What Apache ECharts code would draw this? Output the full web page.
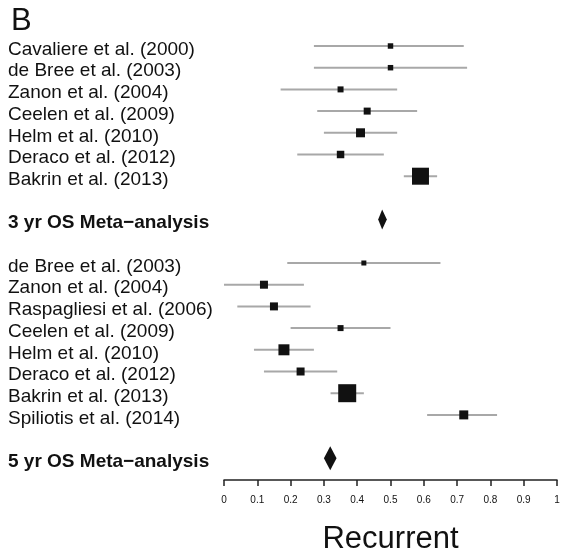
<!DOCTYPE html>
<html>
<head>
<meta charset="utf-8">
<script src="https://cdn.jsdelivr.net/npm/echarts@6/dist/echarts.min.js"></script>
<style>
html,body{margin:0;padding:0;background:#fff;}
#chart{width:566px;height:560px;}
</style>
</head>
<body>
<div id="chart"></div>
<script>
// ---- Data ----
const studies3 = ['Cavaliere et al. (2000)', 'de Bree et al. (2003)', 'Zanon et al. (2004)', 'Ceelen et al. (2009)', 'Helm et al. (2010)', 'Deraco et al. (2012)', 'Bakrin et al. (2013)'];
const est3 = [0.50, 0.50, 0.35, 0.43, 0.41, 0.35, 0.59];
const lo3  = [0.27, 0.27, 0.17, 0.28, 0.30, 0.22, 0.54];
const hi3  = [0.72, 0.73, 0.52, 0.58, 0.52, 0.48, 0.64];
const weight3 = [30, 30, 36, 49, 81, 56, 289];

const studies5 = ['de Bree et al. (2003)', 'Zanon et al. (2004)', 'Raspagliesi et al. (2006)', 'Ceelen et al. (2009)', 'Helm et al. (2010)', 'Deraco et al. (2012)', 'Bakrin et al. (2013)', 'Spiliotis et al. (2014)'];
const est5 = [0.42, 0.12, 0.15, 0.35, 0.18, 0.23, 0.37, 0.72];
const lo5  = [0.19, 0.00, 0.04, 0.20, 0.09, 0.12, 0.32, 0.61];
const hi5  = [0.65, 0.24, 0.26, 0.50, 0.27, 0.34, 0.42, 0.82];
const weight5 = [25, 64, 64, 36, 121, 64, 324, 81];

const metaLabels = ['3 yr OS Meta\u2212analysis', '5 yr OS Meta\u2212analysis'];
const metaEst = [0.475, 0.319];
const metaLo  = [0.463, 0.300];
const metaHi  = [0.489, 0.338];

const xTicks = [0, 0.1, 0.2, 0.3, 0.4, 0.5, 0.6, 0.7, 0.8, 0.9, 1];
const xTitle = 'Recurrent';
const panelLabel = 'B';

// ---- Build rows ----
const rowLabels = [].concat(studies3, [''], [metaLabels[0]], [''], studies5, [''], [metaLabels[1]], ['']);
const studyRows = [];
studies3.forEach((s, i) => studyRows.push({row: i, est: est3[i], lo: lo3[i], hi: hi3[i], w: weight3[i]}));
const off5 = studies3.length + 3;
studies5.forEach((s, i) => studyRows.push({row: off5 + i, est: est5[i], lo: lo5[i], hi: hi5[i], w: weight5[i]}));
const metaRows = [studies3.length + 1, off5 + studies5.length + 1];

const ciData = studyRows.map(r => [r.lo, r.hi, r.row]);
const ptData = studyRows.map(r => ({value: [r.est, r.row], symbolSize: Math.sqrt(r.w)}));
const diaData = metaRows.map((row, i) => [metaLo[i], metaEst[i], metaHi[i], row]);

const FONT = 'Liberation Sans, Arial, Helvetica, sans-serif';
const chart = echarts.init(document.getElementById('chart'));
chart.setOption({
  backgroundColor: '#fff',
  animation: false,
  textStyle: {fontFamily: FONT},
  title: {
    text: panelLabel, left: 6, top: 1,
    textStyle: {fontSize: 31, fontWeight: 'normal', color: '#111', fontFamily: FONT}
  },
  grid: {left: 224, right: 9, top: 46, bottom: 76, containLabel: false},
  xAxis: {
    type: 'value', min: xTicks[0], max: xTicks[xTicks.length - 1], interval: 0.1,
    position: 'bottom',
    axisLine: {show: true, lineStyle: {color: '#222', width: 1.5}},
    axisTick: {show: true, length: 6, lineStyle: {color: '#222', width: 1.5}},
    axisLabel: {fontSize: 10, color: '#111', margin: 15, fontFamily: FONT},
    splitLine: {show: false},
    name: xTitle, nameLocation: 'middle', nameGap: 44,
    nameTextStyle: {fontSize: 31, color: '#111', fontFamily: FONT}
  },
  yAxis: {
    type: 'category', inverse: true, boundaryGap: false, data: rowLabels,
    axisLine: {show: false}, axisTick: {show: false}, splitLine: {show: false},
    axisLabel: {
      interval: 0, align: 'left', margin: 216, fontSize: 19, color: '#111', fontFamily: FONT,
      padding: [7, 0, 0, 0],
      formatter: function (v) { return metaLabels.indexOf(v) >= 0 ? '{b|' + v + '}' : v; },
      rich: {b: {fontWeight: 'bold', fontSize: 19, color: '#111', fontFamily: FONT}}
    }
  },
  series: [
    {
      type: 'custom', data: ciData, encode: {x: [0, 1], y: 2}, z: 2,
      renderItem: function (params, api) {
        const y = api.value(2);
        const a = api.coord([api.value(0), y]);
        const b = api.coord([api.value(1), y]);
        return {type: 'line', shape: {x1: a[0], y1: a[1], x2: b[0], y2: b[1]},
                style: {stroke: '#a8a8a8', lineWidth: 2}};
      }
    },
    {
      type: 'scatter', data: ptData, symbol: 'rect', z: 3,
      itemStyle: {color: '#111', opacity: 1}
    },
    {
      type: 'custom', data: diaData, encode: {x: [0, 1, 2], y: 3}, z: 3,
      renderItem: function (params, api) {
        const y = api.value(3);
        const l = api.coord([api.value(0), y]);
        const m = api.coord([api.value(1), y]);
        const r = api.coord([api.value(2), y]);
        const h = params.dataIndex === 0 ? 10 : 12;
        return {type: 'polygon', shape: {points: [[l[0], l[1]], [m[0], m[1] - h], [r[0], r[1]], [m[0], m[1] + h]]},
                style: {fill: '#111'}};
      }
    }
  ]
});
</script>
</body>
</html>
